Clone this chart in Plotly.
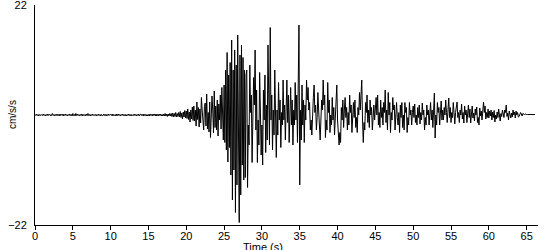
import plotly.graph_objects as go

DT = 0.1  # sample interval (s)

# 0 - 17 s : pre-event noise
quiet_phase = [
    0.1, -0.1, 0.2, -0.1, 0.1, -0.2, 0.1, 0.0, -0.1, 0.1,
    -0.1, 0.2, -0.1, 0.1, -0.2, 0.1, -0.1, 0.2, -0.1, 0.1,
    0.1, -0.2, 0.1, 0.3, -0.1, 0.1, -0.2, 0.1, -0.1, 0.2,
    -0.1, 0.1, -0.2, 0.2, -0.1, 0.1, -0.1, 0.2, -0.2, 0.1,
    0.2, -0.1, 0.1, -0.2, 0.1, -0.1, 0.2, -0.1, 0.1, -0.2,
    0.3, -0.1, 0.1, -0.2, 0.3, -0.1, 0.2, -0.1, 0.1, -0.2,
    0.1, -0.1, 0.2, -0.2, 0.1, -0.1, 0.1, -0.2, 0.2, -0.1,
    0.3, -0.1, 0.1, -0.2, 0.1, -0.1, 0.2, -0.1, 0.1, -0.1,
    0.1, -0.2, 0.1, -0.1, 0.2, -0.1, 0.1, -0.2, 0.1, -0.1,
    -0.1, 0.2, -0.1, 0.1, -0.2, 0.1, -0.1, 0.2, -0.1, 0.1,
    0.1, -0.1, 0.2, -0.2, 0.1, -0.1, 0.1, -0.2, 0.2, -0.1,
    0.2, -0.1, 0.1, -0.2, 0.1, -0.1, 0.2, -0.1, 0.1, -0.2,
    0.1, -0.2, 0.1, -0.1, 0.2, -0.1, 0.1, -0.2, 0.1, -0.1,
    -0.1, 0.2, -0.1, 0.1, -0.2, 0.1, -0.1, 0.2, -0.2, 0.1,
    0.2, -0.1, 0.1, -0.2, 0.2, -0.1, 0.1, -0.2, 0.1, -0.2,
    0.1, -0.2, 0.2, -0.1, 0.1, -0.2, 0.2, -0.1, 0.2, -0.2,
    0.2, -0.2, 0.1, -0.2, 0.2, -0.1, 0.2, -0.2, 0.1, -0.2,
]

# 17 - 25 s : P-wave onset
p_wave = [
    0.2, -0.2, 0.3, -0.2, 0.2, -0.3, 0.2, -0.2, 0.3, -0.2,
    0.3, -0.3, 0.4, -0.4, 0.3, -0.3, 0.5, -0.4, 0.3, -0.3,
    0.5, -0.4, 0.7, -0.5, 0.4, -0.8, 0.6, -0.4, 0.9, -0.6,
    0.8, -0.7, 1.2, -0.9, 0.6, -1.4, 1.0, -0.8, 1.6, -1.1,
    1.8, -1.2, 1.0, -2.2, 2.6, -0.9, 1.5, -2.4, 1.2, -1.6,
    3.5, 1.0, -1.8, -3.0, 1.7, 2.4, -2.2, 4.2, -2.8, 0.5,
    -3.4, 2.6, -4.5, -1.0, 3.8, 1.0, -3.6, 4.8, -2.5, 1.8,
    -3.0, 3.0, -4.2, 2.2, -1.0, 4.0, -2.8, 5.5, -4.0, -5.0,
]

# 25 - 36 s : strong motion
strong_motion = [
    6.0, -5.5, 9.0, -7.0, 12.5, -9.4, 8.0, -6.5, 10.5, -12.0,
    15.0, -17.0, 9.0, -11.0, 13.0, -19.5, 10.0, -14.0, 16.0, -12.0,
    -21.5, 12.0, -16.0, 14.0, -10.0, 11.5, -13.0, 9.0, -12.5, 8.0,
    9.0, -14.5, -2.0, -6.0, 10.0, 0.5, 4.0, -9.5, -3.0, 7.5,
    2.0, 13.0, -3.0, 5.0, -9.5, -1.0, -6.0, 8.5, 1.0, -8.0,
    -2.0, -10.0, 5.0, -1.0, 8.0, -7.5, 2.0, -5.0, 14.0, 3.0,
    -6.0, 17.5, -1.0, 4.0, -7.0, 1.0, -4.0, 9.0, -3.0, -8.5,
    1.0, -4.0, 6.5, -1.0, 3.0, -6.5, 0.5, -2.0, 7.0, -1.0,
    2.0, -5.0, 1.0, 7.0, -1.5, 4.0, -5.5, 0.5, 5.5, -2.0,
    3.0, -6.0, 1.0, -2.0, 6.5, -1.0, 4.0, -5.5, 3.5, 18.0,
    -14.0, 1.0, -5.0, 6.0, -2.0, 3.0, -5.5, 2.0, -1.0, 7.0,
]

# 36 - 50 s : early coda
coda_early = [
    3.0, 5.5, 1.0, 2.5, -3.0, -1.0, -4.0, 1.5, 3.5, 6.0,
    0.5, 2.0, -3.0, -0.5, 4.5, 1.0, -2.0, -5.0, -1.0, 3.0,
    1.0, 7.0, 2.0, 4.0, -4.5, -1.0, -3.0, 6.5, 0.5, 3.0,
    -3.5, 0.0, -2.0, 3.5, -1.0, 1.5, -4.0, -0.5, 2.0, 6.0,
    -1.0, -4.0, -6.0, -3.5, -5.5, 1.5, -1.0, 3.0, -2.5, 1.0,
    3.5, -0.5, 1.5, -3.0, 0.5, -2.0, 4.0, 0.5, 2.0, -3.5,
    -1.0, 2.5, -0.5, 3.0, -2.5, -0.5, -3.5, 1.5, 0.0, 4.5,
    1.0, 5.0, 7.0, -1.0, -5.5, -1.5, -3.0, 2.5, 0.5, 4.0,
    -1.5, 1.0, -2.5, 3.0, 0.0, 1.5, -3.0, -0.5, 2.0, -1.0,
    1.0, 3.5, 0.0, 4.0, -2.0, 0.5, -2.5, 3.0, -0.5, 1.5,
    -2.0, 2.5, 0.5, 5.0, -1.5, 1.0, -3.0, 4.5, 0.0, 2.5,
    -3.5, 0.5, -1.0, 3.5, 1.0, 2.0, -3.0, -1.0, 2.5, -0.5,
    -2.0, 0.5, -3.5, 2.0, -0.5, 2.5, -2.5, 0.0, -3.0, 2.5,
    0.5, 1.5, -3.5, -0.5, -2.0, 2.5, 0.0, 1.0, -2.0, 0.5,
]

# 50 - 66.2 s : late coda
coda_late = [
    1.8, -0.5, 2.2, -1.5, 0.0, -2.0, 1.5, -0.5, 2.0, -1.8,
    0.5, -1.0, 2.4, 0.0, 1.0, -3.0, -0.5, -2.0, 2.0, 0.0,
    1.0, -2.0, 0.0, 2.5, -1.0, 1.0, -2.5, 1.8, 4.4, -4.6,
    0.0, -2.0, 2.5, 0.5, 1.5, -2.0, 0.5, 2.8, -1.0, 1.0,
    -1.0, 1.5, 0.0, 3.0, 0.5, -1.5, 1.0, 3.4, -0.5, 1.5,
    -1.5, 0.5, -0.5, 2.5, 0.5, -1.8, 0.5, 1.2, 2.6, -0.5,
    0.5, -1.5, 1.0, 0.0, 2.2, -0.8, 0.5, -1.6, 1.8, 0.0,
    1.0, -1.5, 0.5, 2.0, -0.5, 1.2, -1.6, 0.0, 1.8, -0.6,
    0.4, -1.2, 1.2, 0.0, 1.6, -1.5, -0.5, -2.0, 1.4, -0.2,
    0.8, -1.0, 1.0, 2.6, 0.5, 1.8, -0.8, 0.5, -0.5, 1.2,
    -0.6, 0.8, -0.2, 1.0, -1.0, 0.6, -0.5, 0.9, -1.4, 0.0,
    -0.8, 0.6, -0.5, 1.2, 0.0, -1.2, 0.3, -0.3, 1.0, 0.2,
    -0.5, 1.0, 0.5, 2.0, -0.3, 0.4, -1.0, 0.8, 0.2, -0.6,
    0.4, -0.4, 1.0, 0.0, 0.6, -0.6, 0.8, 0.0, 0.5, -0.4,
    -0.3, 0.4, 0.5, 0.2, -0.2, 0.3, 0.2, 0.1, 0.2, 0.1,
    0.1, 0.1, 0.1, 0.1, 0.1, 0.1, 0.1, 0.1, 0.1, 0.1,
    0.1, 0.1,
]

x_ticks = [0, 5, 10, 15, 20, 25, 30, 35, 40, 45, 50, 55, 60, 65]
y_ticks = [-22, 22]
x_title = "Time (s)"
y_title = "cm/s/s"

accel = quiet_phase + p_wave + strong_motion + coda_early + coda_late
time = [round(i * DT, 2) for i in range(len(accel))]

FONT = "Liberation Sans, Arial, sans-serif"

fig = go.Figure()
fig.add_trace(go.Scatter(x=time, y=accel, mode="lines",
                         line=dict(color="black", width=1),
                         hoverinfo="skip", showlegend=False))

fig.update_layout(
    width=550, height=250,
    margin=dict(l=35, r=12, t=5, b=25, autoexpand=False),
    paper_bgcolor="white", plot_bgcolor="white",
    font=dict(family=FONT, size=11, color="black"),
    xaxis=dict(range=[0, 66.5], tickvals=x_ticks, ticks="outside", ticklen=4,
               tickcolor="black", showline=True, linecolor="black", linewidth=1,
               showgrid=False, zeroline=False, tickfont=dict(size=11),
               ticklabelstandoff=-3, automargin=False),
    yaxis=dict(range=[-22, 22], tickvals=y_ticks, ticks="outside", ticklen=5,
               tickcolor="rgba(0,0,0,0)", showline=True, linecolor="black", linewidth=1,
               showgrid=False, zeroline=False, tickfont=dict(size=11),
               ticklabeloverflow="allow", automargin=False),
    annotations=[
        dict(text=x_title, xref="paper", yref="paper", x=0.453, y=0,
             xanchor="center", yanchor="top", yshift=-14, showarrow=False,
             font=dict(size=11)),
        dict(text=y_title, xref="paper", yref="paper", x=0, y=0.5,
             xanchor="center", yanchor="middle", xshift=-23, textangle=-90,
             showarrow=False, font=dict(size=10)),
    ],
)

fig.write_html("out.html")
